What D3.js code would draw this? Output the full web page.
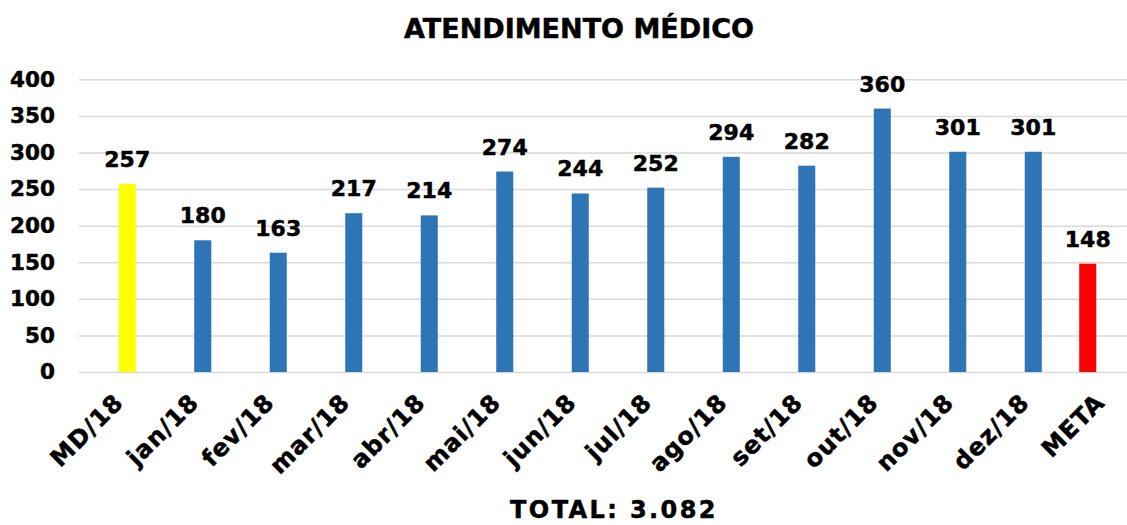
<!DOCTYPE html>
<html>
<head>
<meta charset="utf-8">
<script src="https://cdn.jsdelivr.net/npm/d3@7"></script>
<style>
  body { margin: 0; background: #fff; }
  svg { display: block; }
  text { font-family: "DejaVu Sans", Verdana, sans-serif; font-weight: bold; fill: #000; stroke: #000; stroke-width: 0.5px; }
</style>
</head>
<body>
<div id="chart"></div>
<script>
var categories = ["MD/18", "jan/18", "fev/18", "mar/18", "abr/18", "mai/18", "jun/18",
  "jul/18", "ago/18", "set/18", "out/18", "nov/18", "dez/18", "META"];
var values = [257, 180, 163, 217, 214, 274, 244, 252, 294, 282, 360, 301, 301, 148];
var seriesOf = ["media", "mes", "mes", "mes", "mes", "mes", "mes",
  "mes", "mes", "mes", "mes", "mes", "mes", "meta"];
var yTicks = [0, 50, 100, 150, 200, 250, 300, 350, 400];
var title = "ATENDIMENTO MÉDICO";
var totalText = "TOTAL: 3.082";

var width = 1127, height = 525;

var svg = d3.select("#chart").append("svg")
  .attr("width", width)
  .attr("height", height);

var data = categories.map(function(c, i) {
  return { cat: c, value: values[i], serie: seriesOf[i] };
});

var xScale = d3.scaleBand()
  .domain(categories)
  .range([79, 1136]);

// two slots per category, META sits in the left one
var slot = d3.scaleBand()
  .domain(["meta", "main"])
  .range([0, xScale.bandwidth()])
  .paddingInner(0.19)
  .paddingOuter(0.89);

var yScale = d3.scaleLinear()
  .domain([0, 400])
  .range([372, 79.3]);

var color = d3.scaleOrdinal()
  .domain(["media", "mes", "meta"])
  .range(["#FFFF00", "#2E75B6", "#FF0000"]);

function slotOf(d) {
  return d.serie === "meta" ? "meta" : "main";
}

// gridlines
var yAxis = d3.axisLeft(yScale)
  .tickValues(yTicks)
  .tickSize(-(1136 - 79))
  .tickPadding(24);

var gy = svg.append("g")
  .attr("class", "y-axis")
  .attr("transform", "translate(79,0)")
  .call(yAxis);
gy.select(".domain").remove();
gy.selectAll("line")
  .attr("stroke", "#d9d9d9")
  .attr("stroke-width", 1.5);
gy.selectAll("text")
  .style("font-size", "21.5px");

// bars
svg.selectAll(".bar")
  .data(data)
  .enter()
  .append("rect")
  .attr("class", "bar")
  .attr("x", function(d) { return xScale(d.cat) + slot(slotOf(d)); })
  .attr("width", slot.bandwidth())
  .attr("y", function(d) { return yScale(d.value); })
  .attr("height", function(d) { return yScale(0) - yScale(d.value); })
  .attr("fill", function(d) { return color(d.serie); });

// value labels
svg.selectAll(".val")
  .data(data)
  .enter()
  .append("text")
  .attr("class", "val")
  .attr("x", function(d) { return xScale(d.cat) + slot(slotOf(d)) + slot.bandwidth() / 2; })
  .attr("y", function(d) { return yScale(d.value) - 17; })
  .attr("text-anchor", "middle")
  .style("font-size", "22px")
  .text(function(d) { return d.value; });

// x labels
svg.selectAll(".xlab")
  .data(categories)
  .enter()
  .append("text")
  .attr("class", "xlab")
  .attr("text-anchor", "end")
  .attr("transform", function(d) {
    var cx = xScale(d) + xScale.bandwidth() / 2 + 2;
    return "translate(" + cx + ",398) rotate(-45)";
  })
  .attr("dy", "0.35em")
  .style("font-size", "24px")
  .style("letter-spacing", "1px")
  .text(function(d) { return d; });

svg.append("text")
  .attr("x", 579)
  .attr("y", 38)
  .attr("text-anchor", "middle")
  .style("font-size", "27px")
  .text(title);

svg.append("text")
  .attr("x", 614)
  .attr("y", 518)
  .attr("text-anchor", "middle")
  .style("font-size", "24px")
  .style("letter-spacing", "2.4px")
  .text(totalText);
</script>
</body>
</html>
